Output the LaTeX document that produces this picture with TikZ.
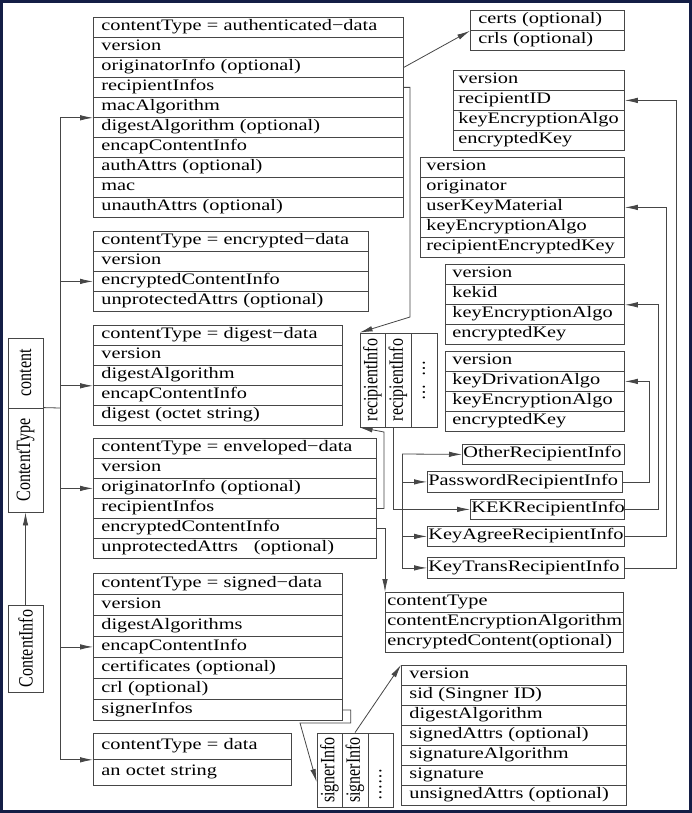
\documentclass[tikz,border=0pt]{standalone}
\usepackage{graphicx}
\usepackage{fontspec}
\setmainfont{Liberation Serif}[FakeStretch=1.27]
\newfontfamily\vfont{Liberation Serif}
\usetikzlibrary{arrows.meta}
\hyphenpenalty=10000
\exhyphenpenalty=10000
\definecolor{linec}{RGB}{70,70,70}
\definecolor{framec}{RGB}{20,30,70}
\newcommand\rowfont{\fontsize{16pt}{18pt}\selectfont}
\newcommand\vtext[1]{\rotatebox{90}{\scalebox{1}[1.27]{\vfont\fontsize{16pt}{18pt}\selectfont #1}}}
\begin{document}
\begin{tikzpicture}[x=1pt, y=-1pt, >={Latex[length=13pt,width=5.5pt]}, line width=0.8pt,
  row/.style={draw=linec, anchor=north west, inner xsep=8pt, inner ysep=0pt, minimum height=20pt,
    text height=11pt, text depth=4pt, text width=#1, align=left, font=\rowfont},
  vbox/.style 2 args={draw=linec, inner sep=0pt, minimum width=#1, minimum height=#2}]

\useasboundingbox (0,0) rectangle (692,813);
\draw[framec, fill=white, line width=3pt] (1.5,1.5) rectangle (690.5,811.5);

% ContentInfo
\node[vbox={35pt}{70pt}] (ctc) at (25.5,373) {\vtext{content}};
\node[vbox={35pt}{104pt}] (ctt) at (25.5,460) {\vtext{ContentType}};
\node[vbox={35pt}{87pt}] (ci) at (25.5,648.5) {\vtext{ContentInfo}};

% authenticated-data
\node[row=294pt] (auth1) at (93,17) {contentType = authenticated−data};
\node[row=294pt] (auth2) at (93,37) {version};
\node[row=294pt] (auth3) at (93,57) {originatorInfo (optional)};
\node[row=294pt] (auth4) at (93,77) {recipientInfos};
\node[row=294pt] (auth5) at (93,97) {macAlgorithm};
\node[row=294pt] (auth6) at (93,117) {digestAlgorithm (optional)};
\node[row=294pt] (auth7) at (93,137) {encapContentInfo};
\node[row=294pt] (auth8) at (93,157) {authAttrs (optional)};
\node[row=294pt] (auth9) at (93,177) {mac};
\node[row=294pt] (auth10) at (93,197) {unauthAttrs (optional)};

% encrypted-data
\node[row=259pt] (enc1) at (93,231) {contentType = encrypted−data};
\node[row=259pt] (enc2) at (93,251) {version};
\node[row=259pt] (enc3) at (93,271) {encryptedContentInfo};
\node[row=259pt] (enc4) at (93,291) {unprotectedAttrs (optional)};

% digest-data
\node[row=233pt] (dig1) at (93,325) {contentType = digest−data};
\node[row=233pt] (dig2) at (93,345) {version};
\node[row=233pt] (dig3) at (93,365) {digestAlgorithm};
\node[row=233pt] (dig4) at (93,385) {encapContentInfo};
\node[row=233pt] (dig5) at (93,405) {digest (octet string)};

% enveloped-data
\node[row=267pt] (env1) at (93,438) {contentType = enveloped−data};
\node[row=267pt] (env2) at (93,458) {version};
\node[row=267pt] (env3) at (93,478) {originatorInfo (optional)};
\node[row=267pt] (env4) at (93,498) {recipientInfos};
\node[row=267pt] (env5) at (93,518) {encryptedContentInfo};
\node[row=267pt] (env6) at (93,538) {unprotectedAttrs \ \ (optional)};

% signed-data
\node[row=233pt, minimum height=21pt] (sig1) at (93,573) {contentType = signed−data};
\node[row=233pt, minimum height=21pt] (sig2) at (93,594) {version};
\node[row=233pt, minimum height=21pt] (sig3) at (93,615) {digestAlgorithms};
\node[row=233pt, minimum height=21pt] (sig4) at (93,636) {encapContentInfo};
\node[row=233pt, minimum height=21pt] (sig5) at (93,657) {certificates (optional)};
\node[row=233pt, minimum height=21pt] (sig6) at (93,678) {crl (optional)};
\node[row=233pt, minimum height=21pt] (sig7) at (93,699) {signerInfos};

% data
\node[row=182pt, minimum height=26pt] (data1) at (93,733) {contentType = data};
\node[row=182pt, minimum height=26pt] (data2) at (93,759) {an octet string};

% originatorInfo
\node[row=138pt] (certs1) at (470,10) {certs (optional)};
\node[row=138pt] (certs2) at (470,30) {crls (optional)};

% recipientInfo array
\node[vbox={25pt}{94pt}] (ri1) at (372.5,380) {\vtext{recipientInfo}};
\node[vbox={26pt}{94pt}] (ri2) at (398,380) {\vtext{recipientInfo}};
\node[vbox={26pt}{94pt}] (ri3) at (424,380) {\vtext{\dots\hspace{8pt}\dots}};

% KeyTrans
\node[row=161pt, inner xsep=5pt] (kt1) at (453,70) {version};
\node[row=161pt, inner xsep=5pt] (kt2) at (453,90) {recipientID};
\node[row=161pt, inner xsep=5pt] (kt3) at (453,110) {keyEncryptionAlgo};
\node[row=161pt, inner xsep=5pt] (kt4) at (453,130) {encryptedKey};

% KeyAgree
\node[row=192pt, inner xsep=6pt] (ka1) at (420,157) {version};
\node[row=192pt, inner xsep=6pt] (ka2) at (420,177) {originator};
\node[row=192pt, inner xsep=6pt] (ka3) at (420,197) {userKeyMaterial};
\node[row=192pt, inner xsep=6pt] (ka4) at (420,217) {keyEncryptionAlgo};
\node[row=192pt, inner xsep=6pt] (ka5) at (420,237) {recipientEncryptedKey};

% KEK
\node[row=165pt, inner xsep=7pt] (kk1) at (445,264) {version};
\node[row=165pt, inner xsep=7pt] (kk2) at (445,284) {kekid};
\node[row=165pt, inner xsep=7pt] (kk3) at (445,304) {keyEncryptionAlgo};
\node[row=165pt, inner xsep=7pt] (kk4) at (445,324) {encryptedKey};

% Password
\node[row=165pt, inner xsep=7pt] (pw1) at (445,351) {version};
\node[row=165pt, inner xsep=7pt] (pw2) at (445,371) {keyDrivationAlgo};
\node[row=165pt, inner xsep=7pt] (pw3) at (445,391) {keyEncryptionAlgo};
\node[row=165pt, inner xsep=7pt] (pw4) at (445,411) {encryptedKey};

% RecipientInfo choices
\node[row=160pt, inner xsep=1pt] (other) at (462,444) {OtherRecipientInfo};
\node[row=193pt, inner xsep=1pt, minimum height=21pt] (pwr) at (427,471) {PasswordRecipientInfo};
\node[row=152pt, inner xsep=1pt] (kekr) at (470,499) {KEKRecipientInfo};
\node[row=195pt, inner xsep=1pt] (kar) at (427,526) {KeyAgreeRecipientInfo};
\node[row=195pt, inner xsep=1pt, minimum height=21pt] (ktr) at (427,557) {KeyTransRecipientInfo};

% encryptedContentInfo
\node[row=234pt, inner xsep=2pt] (ct1) at (385,592) {contentType};
\node[row=234pt, inner xsep=2pt] (ct2) at (385,612) {contentEncryptionAlgorithm};
\node[row=234pt, inner xsep=2pt] (ct3) at (385,632) {encryptedContent(optional)};

% signerInfo array
\node[vbox={25pt}{74pt}] (si1) at (329.5,770) {\vtext{signerInfo}};
\node[vbox={26pt}{74pt}] (si2) at (355,770) {\vtext{signerInfo}};
\node[vbox={25pt}{74pt}] (si3) at (380.5,770) {\vtext{\dots\dots\hspace{28pt}}};

% SignerInfo
\node[row=209pt] (sd1) at (401,665) {version};
\node[row=209pt] (sd2) at (401,685) {sid (Singner ID)};
\node[row=209pt] (sd3) at (401,705) {digestAlgorithm};
\node[row=209pt] (sd4) at (401,725) {signedAttrs (optional)};
\node[row=209pt] (sd5) at (401,745) {signatureAlgorithm};
\node[row=209pt] (sd6) at (401,765) {signature};
\node[row=209pt] (sd7) at (401,785) {unsignedAttrs (optional)};

% left bus
\draw[->, linec] (ci) -- (ctt);
\coordinate (lb) at (60,408);
\draw[linec] (ctt.north east) -- (lb);
\draw[linec] (lb |- auth5.south west) -- (lb |- data1.south west);
\draw[->, linec] (lb |- auth5.south west) -- (auth5.south west);
\draw[->, linec] (lb |- enc3.west) -- (enc3.west);
\draw[->, linec] (lb |- dig3.south west) -- (dig3.south west);
\draw[->, linec] (lb |- env3.west) -- (env3.west);
\draw[->, linec] (lb |- sig4.west) -- (sig4.west);
\draw[->, linec] (lb |- data1.south west) -- (data1.south west);

% authenticated-data links
\draw[->, linec] (auth3.east) -- (certs1.south west);
\coordinate (ab) at (410,317);
\draw[->, linec] (auth4.east) -| (ab) -- (ri1.north west);

% enveloped-data links
\coordinate (eb) at (384,432);
\draw[->, linec] (env4.east) -| (eb) -- (ri1.south west);
\draw[->, linec] (env5.east) -| (ct1.north west);

% recipientInfo choices
\draw[->, linec] ([xshift=-5pt]ri2.south) |- (kekr.west);
\coordinate (rb) at (402,454);
\draw[linec] (rb) -- (rb |- ktr.west);
\draw[->, linec] (rb) -- (other.west);
\draw[->, linec] (rb |- pwr.west) -- (pwr.west);
\draw[->, linec] (rb |- kar.west) -- (kar.west);
\draw[->, linec] (rb |- ktr.west) -- (ktr.west);

\draw[->, linec] (ktr.east) -- ++(52pt,0) |- (kt2.east);
\draw[->, linec] (kar.east) -- ++(42pt,0) |- (ka3.east);
\draw[->, linec] (kekr.east) -- ++(34pt,0) |- (kk2.south east);
\draw[->, linec] (pwr.east) -- ++(27pt,0) |- (pw2.east);

% signed-data links
\coordinate (sb) at (300,723);
\draw[->, linec] (sig7.east) -- ++(8pt,0) |- (sb) -- ([yshift=-12pt]si1.west);
\draw[->, linec] (si2.north) -- (sd1.north west);

\end{tikzpicture}
\end{document}
